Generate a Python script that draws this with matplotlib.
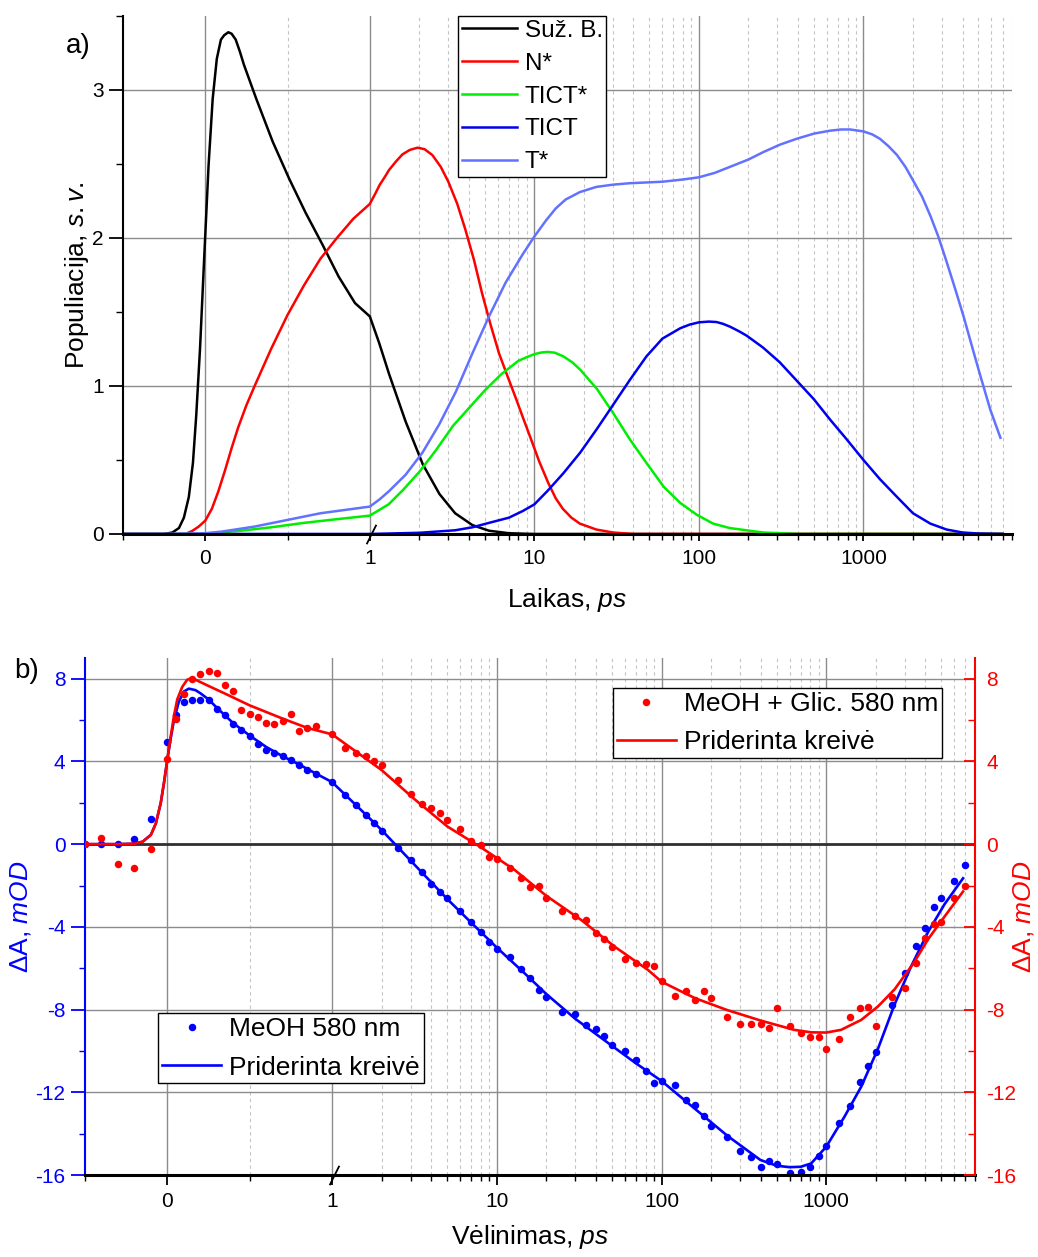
import numpy as np
import matplotlib
matplotlib.use('Agg')
from matplotlib import pyplot as plt
from matplotlib import ticker, transforms

plt.rcParams['font.family'] = ['Liberation Sans', 'DejaVu Sans']
plt.rcParams['mathtext.fontset'] = 'custom'
plt.rcParams['mathtext.rm'] = 'Liberation Sans'
plt.rcParams['mathtext.it'] = 'Liberation Sans:italic'
plt.rcParams['axes.unicode_minus'] = False

# ---- a) populiacijos ----
t_suz = [-0.5, -0.25, -0.2, -0.16, -0.13, -0.1, -0.075, -0.055, -0.032, -0.006,
         0.02, 0.045, 0.07, 0.095, 0.115, 0.14, 0.16, 0.185, 0.21, 0.235,
         0.31, 0.41, 0.51, 0.61, 0.71, 0.81, 0.91, 1.0, 1.14, 1.31,
         1.65, 2.1, 2.65, 3.3, 4.2, 5.3, 7, 10, 7000]
suz = [0, 0, 0.01, 0.04, 0.11, 0.25, 0.48, 0.80, 1.25, 1.88,
       2.49, 2.94, 3.21, 3.34, 3.37, 3.39, 3.38, 3.34, 3.26, 3.17,
       2.94, 2.65, 2.40, 2.17, 1.96, 1.74, 1.56, 1.47, 1.29, 1.08,
       0.76, 0.47, 0.27, 0.14, 0.06, 0.022, 0.005, 0, 0]

t_n = [-0.5, -0.12, -0.08, -0.04, 0, 0.04, 0.08, 0.12, 0.16, 0.2,
       0.25, 0.3, 0.4, 0.5, 0.6, 0.7, 0.8, 0.9, 1.0, 1.08,
       1.15, 1.23, 1.31, 1.45, 1.58, 1.75, 1.95, 2.15, 2.4, 2.7,
       3.0, 3.4, 3.8, 4.3, 4.8, 5.4, 6.1, 6.9, 7.7, 8.5,
       9.4, 10.7, 12.2, 13.5, 14.9, 16.8, 18.9, 23.8, 30, 40,
       7000]
n_star = [0, 0, 0.02, 0.05, 0.09, 0.17, 0.29, 0.43, 0.58, 0.72,
          0.87, 1.0, 1.25, 1.48, 1.68, 1.86, 2.0, 2.13, 2.23, 2.30,
          2.36, 2.41, 2.46, 2.52, 2.565, 2.595, 2.61, 2.60, 2.56, 2.48,
          2.38, 2.23, 2.06, 1.85, 1.63, 1.42, 1.22, 1.06, 0.92, 0.79,
          0.66, 0.49, 0.34, 0.24, 0.17, 0.11, 0.07, 0.03, 0.01, 0,
          0]

t_ticts = [-0.5, -0.2, 0, 0.2, 0.4, 0.6, 0.8, 1.0, 1.3, 1.6,
           2.0, 2.5, 3.2, 4, 5, 6.3, 8, 9, 10, 11,
           12, 13.3, 15, 17, 19, 24, 30, 38, 48, 61,
           77, 97, 122, 154, 245, 400, 7000]
tict_star = [0, 0, 0.003, 0.02, 0.045, 0.075, 0.10, 0.124, 0.2, 0.3,
             0.42, 0.56, 0.73, 0.85, 0.97, 1.08, 1.17, 1.195, 1.215, 1.226,
             1.23, 1.225, 1.20, 1.16, 1.11, 0.98, 0.82, 0.64, 0.48, 0.32,
             0.21, 0.13, 0.07, 0.04, 0.01, 0, 0]

t_tict = [-0.5, 1.0, 2.0, 3.3, 4.2, 5.3, 7, 8.5, 10, 12,
          15, 19, 24, 30, 38, 48, 60, 77, 88, 100,
          115, 128, 140, 155, 175, 195, 245, 310, 390, 500,
          630, 790, 1000, 1260, 1600, 2000, 2550, 3200, 4000, 5000,
          7000]
tict = [0, 0, 0.008, 0.025, 0.045, 0.075, 0.11, 0.155, 0.2, 0.29,
        0.41, 0.55, 0.71, 0.87, 1.04, 1.20, 1.32, 1.39, 1.415, 1.43,
        1.435, 1.432, 1.42, 1.40, 1.37, 1.34, 1.26, 1.16, 1.04, 0.91,
        0.77, 0.64, 0.50, 0.37, 0.25, 0.14, 0.07, 0.03, 0.01, 0.003,
        0]

t_t = [-0.5, -0.2, 0, 0.1, 0.3, 0.5, 0.7, 1.0, 1.15, 1.31,
       1.65, 2.09, 2.64, 3.33, 4.2, 5.3, 6.7, 8.5, 10, 11.8,
       13.5, 15.5, 18.9, 23.8, 30, 38, 60, 80, 100, 125,
       154, 200, 246, 310, 392, 500, 627, 730, 830, 1000,
       1130, 1260, 1420, 1600, 1800, 2000, 2270, 2550, 2850, 3200,
       3600, 4060, 4560, 5130, 5900, 6800]
t_star = [0, 0, 0.005, 0.016, 0.05, 0.095, 0.14, 0.185, 0.235, 0.29,
          0.40, 0.55, 0.74, 0.96, 1.22, 1.47, 1.70, 1.89, 2.01, 2.12,
          2.20, 2.26, 2.31, 2.345, 2.36, 2.37, 2.38, 2.395, 2.41, 2.44,
          2.48, 2.53, 2.58, 2.63, 2.67, 2.705, 2.725, 2.733, 2.733, 2.72,
          2.70, 2.67, 2.62, 2.56, 2.48, 2.39, 2.28, 2.15, 2.01, 1.84,
          1.66, 1.47, 1.27, 1.07, 0.84, 0.65]

# ---- b) kinetikos ----
delay = [-0.5, -0.4, -0.3, -0.2, -0.1, 0, 0.05, 0.1, 0.15, 0.2,
         0.25, 0.3, 0.35, 0.4, 0.45, 0.5, 0.55, 0.6, 0.65, 0.7,
         0.75, 0.8, 0.85, 0.9, 1.0,
         1.2, 1.4, 1.6, 1.8, 2, 2.5, 3, 3.5, 4, 4.5, 5,
         6, 7, 8, 9, 10, 12, 14, 16, 18, 20,
         25, 30, 35, 40, 45, 50, 60, 70, 80, 90, 100,
         120, 140, 160, 180, 200, 250, 300, 350, 400, 450, 500,
         600, 700, 800, 900, 1000, 1200, 1400, 1600, 1800, 2000,
         2500, 3000, 3500, 4000, 4500, 5000, 6000, 7000]
meoh = [0, 0.03, 0.0, 0.24, 1.24, 4.94, 6.23, 6.88, 6.99, 6.99,
        6.99, 6.52, 6.23, 5.80, 5.54, 5.23, 4.86, 4.57, 4.43, 4.27,
        4.09, 3.85, 3.61, 3.37, 3.01,
        2.37, 1.88, 1.43, 1.0, 0.63, -0.19, -0.78, -1.37, -1.93, -2.33, -2.6,
        -3.25, -3.75, -4.27, -4.72, -5.09, -5.48, -6.06, -6.49, -7.03, -7.38,
        -8.11, -8.19, -8.76, -8.93, -9.29, -9.73, -10.0, -10.45, -10.97, -11.53, -11.47,
        -11.66, -12.37, -12.61, -13.15, -13.61, -14.15, -14.82, -15.15, -15.6, -15.32, -15.47,
        -15.92, -15.87, -15.6, -15.08, -14.6, -13.5, -12.65, -11.52, -10.73, -10.05,
        -7.79, -6.21, -4.94, -4.06, -3.05, -2.61, -1.76, -1.03]
meoh_glic = [0, 0.32, -0.95, -1.14, -0.21, 4.11, 6.04, 7.28, 8.0, 8.24,
             8.39, 8.29, 7.68, 7.39, 6.47, 6.30, 6.14, 5.86, 5.81, 5.96,
             6.31, 5.47, 5.62, 5.72, 5.31,
             4.65, 4.40, 4.25, 4.04, 3.82, 3.09, 2.44, 1.94, 1.74, 1.50, 1.18,
             0.74, 0.13, -0.06, -0.60, -0.71, -1.13, -1.65, -2.08, -2.02, -2.62,
             -3.23, -3.46, -3.67, -4.31, -4.60, -4.99, -5.57, -5.74, -5.78, -5.88, -6.62,
             -7.35, -7.08, -7.53, -7.10, -7.45, -8.34, -8.69, -8.71, -8.71, -8.89, -7.92,
             -8.79, -9.15, -9.34, -9.31, -9.89, -9.42, -8.37, -7.94, -7.89, -8.77,
             -7.40, -6.97, -5.74, -4.55, -3.85, -3.76, -2.58, -2.02]

t_fit_meoh = [-0.5, -0.3, -0.2, -0.15, -0.1, -0.07, -0.04, -0.02, 0, 0.02,
              0.04, 0.07, 0.1, 0.13, 0.17, 0.2, 0.25, 0.3, 0.4, 0.5,
              0.6, 0.7, 0.8, 0.9, 1.0, 1.5, 2, 3, 5, 7,
              10, 15, 20, 30, 50, 70, 100, 158, 251, 398,
              500, 600, 700, 810, 1000, 1290, 1630, 2060, 2600, 3280,
              4150, 5230, 6770]
fit_meoh = [0, 0, 0.02, 0.12, 0.45, 1.0, 2.0, 3.0, 4.1, 5.1,
            6.0, 6.9, 7.38, 7.52, 7.45, 7.3, 7.0, 6.6, 5.85, 5.25,
            4.7, 4.25, 3.85, 3.42, 3.0, 1.65, 0.68, -0.8, -2.65, -3.8,
            -5.0, -6.3, -7.25, -8.45, -9.75, -10.6, -11.45, -12.77, -14.1, -15.27,
            -15.55, -15.62, -15.6, -15.44, -14.63, -13.18, -11.73, -9.9, -7.75, -5.9,
            -4.25, -2.9, -1.65]

t_fit_glic = [-0.5, -0.3, -0.2, -0.15, -0.1, -0.07, -0.04, -0.02, 0, 0.02,
              0.04, 0.06, 0.09, 0.12, 0.15, 0.25, 0.35, 0.5, 0.7, 0.85,
              1.0, 1.5, 2, 3.16, 5, 8, 12.8, 20, 32.6, 52,
              83, 100, 130, 160, 250, 400, 640, 810, 1000, 1230,
              1630, 2060, 2600, 3440, 4150, 5230, 6770]
fit_glic = [0, 0, 0.02, 0.12, 0.45, 1.0, 2.0, 3.0, 4.1, 5.2,
            6.2, 7.0, 7.6, 7.95, 8.03, 7.65, 7.28, 6.71, 6.07, 5.62,
            5.31, 4.3, 3.58, 2.18, 0.86, -0.15, -1.24, -2.5, -3.67, -4.96,
            -6.09, -6.65, -7.1, -7.45, -8.02, -8.53, -8.98, -9.10, -9.11, -8.98,
            -8.50, -7.85, -7.02, -5.68, -4.60, -3.5, -2.29]

major_x = [0, 1, 10, 100, 1000]
major_x_labels = ['0', '1', '10', '100', '1000']
minor_x = [-0.5, 0.5] + [k * 10 ** p for p in range(4) for k in range(2, 10)]


# linijine iki 1, logaritmine po 1
def forward(t):
    t = np.asarray(t, dtype=float)
    return np.where(t <= 1, t, 1 + np.log10(np.clip(t, 1, None)))


def inverse(u):
    u = np.asarray(u, dtype=float)
    return np.where(u <= 1, u, 10 ** (np.clip(u, 1, 30) - 1))


def setup_x(ax):
    ax.set_xscale('function', functions=(forward, inverse))
    ax.set_xlim(-0.5, 8000)
    ax.xaxis.set_major_locator(ticker.FixedLocator(major_x))
    ax.xaxis.set_major_formatter(ticker.FixedFormatter(major_x_labels))
    ax.xaxis.set_minor_locator(ticker.FixedLocator(minor_x))
    ax.xaxis.set_minor_formatter(ticker.NullFormatter())
    ax.grid(which='major', color='#8c8c8c', lw=1.0)
    ax.grid(which='minor', axis='x', color='#c4c4c4', lw=0.8, ls=(0, (3, 3)))
    ax.set_axisbelow(True)


def axis_break(ax):
    tr = transforms.blended_transform_factory(ax.transData, ax.transAxes)
    ax.plot([1.02], [0], transform=tr, marker=[(-0.5, -1), (0.5, 1)], ms=14,
            mew=1.3, color='k', mec='k', ls='none', clip_on=False, zorder=6)


fig = plt.figure(figsize=(10.38, 12.57), dpi=100)

# ---------- a) ----------
ax1 = fig.add_axes([0.1185, 0.5752, 0.8565, 0.4121])
setup_x(ax1)
ax1.set_ylim(0, 3.5)
ax1.yaxis.set_major_locator(ticker.FixedLocator([0, 1, 2, 3]))
ax1.yaxis.set_minor_locator(ticker.MultipleLocator(0.5))

lw = 1.8
ax1.plot(t_suz, suz, color='black', lw=lw, label='Suž. B.')
ax1.plot(t_n, n_star, color='#ff0000', lw=lw, label='N*')
ax1.plot(t_ticts, tict_star, color='#00ee00', lw=lw, label='TICT*')
ax1.plot(t_tict, tict, color='#0000ee', lw=lw, label='TICT')
ax1.plot(t_t, t_star, color='#6272ff', lw=lw, label='T*')

for s in ['top', 'right']:
    ax1.spines[s].set_visible(False)
ax1.spines['left'].set_linewidth(1.5)
ax1.spines['bottom'].set_linewidth(2.2)
ax1.tick_params(axis='x', which='major', direction='out', length=5, width=1.3,
                labelsize=15, pad=6)
ax1.tick_params(axis='x', which='minor', direction='out', length=4, width=1.0)
ax1.tick_params(axis='y', which='major', direction='out', length=10, width=1.3,
                labelsize=15, pad=4)
ax1.tick_params(axis='y', which='minor', direction='out', length=5, width=1.0)

ax1.set_xlabel('Laikas, $\\mathit{ps}$', fontsize=19)
ax1.xaxis.set_label_coords(0.5, -0.127)
ax1.xaxis.label.set_va('center')
ax1.set_ylabel('Populiacija, $\\mathit{s.v.}$', fontsize=19)
ax1.yaxis.set_label_coords(-0.052, 0.5)
ax1.yaxis.label.set_va('center')
axis_break(ax1)

leg1 = ax1.legend(loc='upper left', bbox_to_anchor=(0.377, 1.0), borderaxespad=0,
                  fontsize=17.5, handlelength=2.25, handletextpad=0.33,
                  borderpad=0.15, labelspacing=0.45, fancybox=False,
                  framealpha=1, edgecolor='black')
leg1.get_frame().set_linewidth(1.0)

# ---------- b) ----------
ax2 = fig.add_axes([0.0819, 0.0652, 0.8574, 0.4113])
setup_x(ax2)
ax3 = ax2.twinx()
yt = [-16, -12, -8, -4, 0, 4, 8]
for ax in (ax2, ax3):
    ax.set_ylim(-16, 9)
    ax.yaxis.set_major_locator(ticker.FixedLocator(yt))
    ax.yaxis.set_minor_locator(ticker.MultipleLocator(2))

ax2.axhline(0, color='#303030', lw=2, zorder=1.5)
ax2.plot(delay, meoh, 'o', ms=5.4, mew=0, color='#0000ff', ls='none', label='MeOH 580 nm')
ax2.plot(t_fit_meoh, fit_meoh, color='#0000ff', lw=1.9, label='Priderinta kreivė')
ax3.plot(delay, meoh_glic, 'o', ms=5.4, mew=0, color='#ff0000', ls='none',
         label='MeOH + Glic. 580 nm')
ax3.plot(t_fit_glic, fit_glic, color='#ff0000', lw=1.9, label='Priderinta kreivė')

ax2.spines['top'].set_visible(False)
ax2.spines['right'].set_visible(False)
ax2.spines['left'].set_color('#0000ff')
ax2.spines['left'].set_linewidth(1.5)
ax2.spines['bottom'].set_linewidth(2.2)
for s in ['top', 'left', 'bottom']:
    ax3.spines[s].set_visible(False)
ax3.spines['right'].set_color('#ff0000')
ax3.spines['right'].set_linewidth(1.5)

ax2.tick_params(axis='x', which='major', direction='out', length=7, width=1.3,
                labelsize=15, pad=5)
ax2.tick_params(axis='x', which='minor', direction='out', length=4, width=1.0)
ax2.tick_params(axis='y', which='major', direction='out', length=10, width=1.3,
                labelsize=15, pad=4, colors='#0000ff')
ax2.tick_params(axis='y', which='minor', direction='out', length=4, width=1.0,
                colors='#0000ff')
ax3.tick_params(axis='y', which='major', direction='in', length=8, width=1.3,
                labelsize=15, pad=8, colors='#ff0000')
ax3.tick_params(axis='y', which='minor', direction='in', length=5, width=1.0,
                colors='#ff0000')

ax2.set_xlabel('Vėlinimas, $\\mathit{ps}$', fontsize=19)
ax2.xaxis.set_label_coords(0.5, -0.12)
ax2.xaxis.label.set_va('center')
ax2.set_ylabel('ΔA, $\\mathit{mOD}$', fontsize=19, color='#0000ff')
ax2.yaxis.set_label_coords(-0.073, 0.5)
ax2.yaxis.label.set_va('center')
ax3.set_ylabel('ΔA, $\\mathit{mOD}$', fontsize=19, color='#ff0000', rotation=90)
ax3.yaxis.set_label_coords(1.055, 0.5)
ax3.yaxis.label.set_va('center')
axis_break(ax2)

leg_kw = dict(loc='upper left', borderaxespad=0, fontsize=19, handlelength=2.25,
              handletextpad=0.3, borderpad=0.15, labelspacing=0.55, numpoints=1,
              fancybox=False, framealpha=1, edgecolor='black')
leg2 = ax2.legend(bbox_to_anchor=(0.082, 0.3133), **leg_kw)
leg3 = ax3.legend(bbox_to_anchor=(0.593, 0.942), **leg_kw)
leg2.get_frame().set_linewidth(1.0)
leg3.get_frame().set_linewidth(1.0)

fig.text(78 / 1038, 1 - 46 / 1257, 'a)', fontsize=20, ha='center', va='center')
fig.text(27 / 1038, 1 - 671 / 1257, 'b)', fontsize=20, ha='center', va='center')

fig.savefig('out.png', dpi=100)
